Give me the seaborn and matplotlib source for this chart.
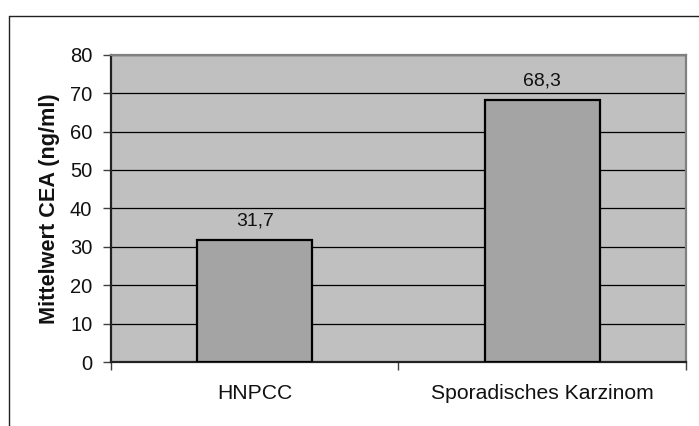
import matplotlib
matplotlib.use("Agg")
import matplotlib.pyplot as plt
from matplotlib.lines import Line2D
from matplotlib.ticker import FixedLocator
import seaborn as sns
import pandas as pd

# Mean CEA values per group
categories = ["HNPCC", "Sporadisches Karzinom"]
values = [31.7, 68.3]
value_labels = ["31,7", "68,3"]
y_ticks = [0, 10, 20, 30, 40, 50, 60, 70, 80]
y_label = "Mittelwert CEA (ng/ml)"

sns.set_theme(style="white")
plt.rcParams["font.family"] = ["Liberation Sans", "DejaVu Sans"]

df = pd.DataFrame({"Gruppe": categories, "CEA": values})

fig = plt.figure(figsize=(6.99, 4.26), dpi=100)
fig.patch.set_facecolor("white")
ax = fig.add_axes([0.1588, 0.1502, 0.9814 - 0.1588, 0.8716 - 0.1502])
ax.set_facecolor("#C0C0C0")

sns.barplot(data=df, x="Gruppe", y="CEA", ax=ax, color="#A4A4A4",
            saturation=1, width=0.4, edgecolor="black", linewidth=1.6,
            zorder=3)

ax.set_xlim(-0.5, 1.5)
ax.set_ylim(0, 80)
ax.set_yticks(y_ticks)
ax.set_yticklabels([str(t) for t in y_ticks])
ax.yaxis.grid(True, color="black", linewidth=0.9, zorder=1)
ax.set_axisbelow(True)

# category boundary ticks below the axis
ax.xaxis.set_minor_locator(FixedLocator([-0.5, 0.5, 1.5]))
ax.tick_params(axis="x", which="major", length=0, pad=15.5, labelsize=15.2)
ax.tick_params(axis="x", which="minor", length=5.5, width=1.0,
               color="#404040", direction="out", bottom=True)
ax.tick_params(axis="y", which="major", length=5.5, width=1.0,
               color="#404040", direction="out", left=True, pad=8,
               labelsize=14.5)
for lab in ax.get_xticklabels() + ax.get_yticklabels():
    lab.set_color("#111111")

ax.set_xlabel("")
ax.set_ylabel(y_label, fontsize=15.6, fontweight="bold", labelpad=7,
              color="#111111")

for side in ["left", "bottom"]:
    ax.spines[side].set_color("#222222")
    ax.spines[side].set_linewidth(1.6)
for side in ["top", "right"]:
    ax.spines[side].set_color("#808080")
    ax.spines[side].set_linewidth(1.6)

# value labels above the bars
for i, (v, txt) in enumerate(zip(values, value_labels)):
    ax.annotate(txt, (i, v), xytext=(0, 10.5), textcoords="offset points",
                ha="center", va="baseline", fontsize=14, color="#111111")

# surrounding frame (top and left edges)
fig.add_artist(Line2D([8.7 / 699, 1.0], [1 - 15.7 / 426, 1 - 15.7 / 426],
                      transform=fig.transFigure, color="#222222", linewidth=1.0))
fig.add_artist(Line2D([8.7 / 699, 8.7 / 699], [0.0, 1 - 15.7 / 426],
                      transform=fig.transFigure, color="#222222", linewidth=1.0))

fig.savefig("out.png", dpi=100)
